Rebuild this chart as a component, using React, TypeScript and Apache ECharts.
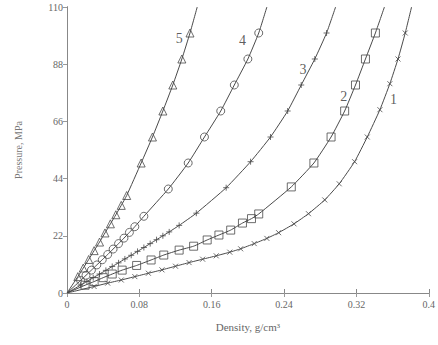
import React, { useEffect, useRef } from "react";
import * as echarts from "echarts";

// Curve 1 (× markers)
const c1Marks: number[][] = [
  [0.03, 2.5], [0.045, 3.8], [0.06, 5.0], [0.075, 6.3], [0.09, 7.6], [0.105, 8.9],
  [0.12, 10.3], [0.135, 11.7], [0.15, 13.0], [0.165, 14.3], [0.18, 15.7], [0.192, 17],
  [0.207, 19], [0.221, 21], [0.234, 23.2], [0.251, 26.6], [0.267, 30.5], [0.285, 35.8],
  [0.301, 42], [0.318, 50.5], [0.332, 60], [0.346, 70.5], [0.357, 80.5], [0.366, 90], [0.374, 100],
];
const c1Ends: number[][] = [[0, 0], [0.381, 110]];

// Curve 2 (□ markers)
const c2Marks: number[][] = [
  [0.02, 3.0], [0.03, 4.4], [0.04, 5.9], [0.05, 7.3], [0.061, 8.8], [0.077, 10.6],
  [0.093, 12.7], [0.107, 14.6], [0.124, 16.5], [0.14, 18], [0.155, 20.4], [0.168, 22.3],
  [0.181, 24.2], [0.194, 26.9], [0.204, 28.6], [0.212, 30.4], [0.248, 40.8], [0.273, 50],
  [0.292, 60], [0.307, 70], [0.319, 80], [0.33, 90], [0.341, 100],
];
const c2Ends: number[][] = [[0, 0], [0.351, 110]];

// Curve 3 (+ markers)
const c3Marks: number[][] = [
  [0.015, 3.0], [0.022, 4.4], [0.029, 5.9], [0.036, 7.3], [0.043, 8.7], [0.05, 10.2],
  [0.057, 11.6], [0.064, 13.1], [0.071, 14.5], [0.078, 16.0], [0.085, 17.5], [0.092, 19.0],
  [0.099, 20.5], [0.106, 22.0], [0.113, 23.5], [0.124, 26], [0.143, 30.7], [0.176, 40.5],
  [0.203, 50.5], [0.225, 60], [0.244, 70], [0.259, 80], [0.274, 90], [0.287, 100],
];
const c3Ends: number[][] = [[0, 0], [0.297, 110]];

// Curve 4 (○ markers)
const c4Marks: number[][] = [
  [0.015, 4.8], [0.021, 6.8], [0.027, 8.8], [0.033, 10.8], [0.039, 12.8], [0.045, 14.8],
  [0.051, 16.9], [0.057, 19.0], [0.063, 21.1], [0.069, 23.3], [0.075, 25.5], [0.085, 29.5],
  [0.112, 40], [0.134, 50], [0.152, 60], [0.17, 70], [0.185, 80], [0.2, 90], [0.212, 100],
];
const c4Ends: number[][] = [[0, 0], [0.221, 110]];

// Curve 5 (△ markers)
const c5Marks: number[][] = [
  [0.012, 6.3], [0.018, 9.6], [0.024, 12.9], [0.03, 16.3], [0.036, 19.6], [0.042, 23.1],
  [0.048, 26.6], [0.054, 30.1], [0.06, 33.7], [0.066, 37.5], [0.082, 50], [0.0945, 60],
  [0.106, 70], [0.117, 80], [0.127, 90], [0.136, 100],
];
const c5Ends: number[][] = [[0, 0], [0.144, 110]];

// Curve labels
const curveLabels = ["1", "2", "3", "4", "5"];
const curveLabelPos: number[][] = [[0.361, 74.6], [0.306, 75.5], [0.261, 86], [0.194, 97], [0.124, 97.7]];

const xTicks = [0, 0.08, 0.16, 0.24, 0.32, 0.4];
const yTicks = [0, 22, 44, 66, 88, 110];

const INK = "#4a4a4a";
const FONT = "Liberation Serif";

export default function App() {
  const ref = useRef<HTMLDivElement>(null);
  useEffect(() => {
    if (!ref.current) return;
    const chart = echarts.init(ref.current, null, { renderer: "svg" });
    const lineS = (marks: number[][], ends: number[][]) => ({
      type: "line", data: [ends[0], ...marks, ends[1]], smooth: 0.15, showSymbol: false, symbol: "none",
      lineStyle: { color: INK, width: 1 }, silent: true, z: 2,
    });
    const markS = (data: number[][], symbol: string, size: number) => ({
      type: "scatter", data, symbol, symbolSize: size,
      itemStyle: { color: "rgba(255,255,255,0)", borderColor: INK, borderWidth: 1 }, z: 3,
    });
    const axisLabel = { color: "#666", fontFamily: FONT, fontSize: 10 };
    chart.setOption({
      animation: false,
      backgroundColor: "#fff",
      grid: { left: 67, right: 7, top: 7, bottom: 52 },
      xAxis: [
        {
          type: "value", min: xTicks[0], max: xTicks[xTicks.length - 1], interval: 0.08,
          name: "Density, g/cm³", nameLocation: "middle", nameGap: 28,
          nameTextStyle: { color: "#666", fontFamily: FONT, fontSize: 11 },
          axisLine: { lineStyle: { color: "#666" } },
          axisTick: { inside: true, length: 4, lineStyle: { color: "#888" } },
          axisLabel: { ...axisLabel, margin: 6, formatter: (v: number) => (v === 0 ? "0" : String(+v.toFixed(2))) },
          splitLine: { show: false },
        },
        {
          type: "value", position: "top", min: xTicks[0], max: xTicks[xTicks.length - 1], interval: 0.08,
          axisLine: { lineStyle: { color: "#888" } },
          axisTick: { inside: true, length: 4, lineStyle: { color: "#999" } },
          axisLabel: { show: false }, splitLine: { show: false },
        },
      ],
      yAxis: [
        {
          type: "value", min: yTicks[0], max: yTicks[yTicks.length - 1], interval: 22,
          name: "Pressure, MPa", nameLocation: "middle", nameGap: 44,
          nameTextStyle: { color: "#777", fontFamily: FONT, fontSize: 10 },
          axisLine: { lineStyle: { color: "#555" } },
          axisTick: { inside: false, length: 3, lineStyle: { color: "#888" } },
          axisLabel: { ...axisLabel, margin: 4 },
          splitLine: { show: false },
        },
        {
          type: "value", position: "right", min: yTicks[0], max: yTicks[yTicks.length - 1], interval: 22,
          axisLine: { lineStyle: { color: "#888" } },
          axisTick: { inside: true, length: 4, lineStyle: { color: "#999" } },
          axisLabel: { show: false }, splitLine: { show: false },
        },
      ],
      series: [
        lineS(c1Marks, c1Ends), lineS(c2Marks, c2Ends), lineS(c3Marks, c3Ends),
        lineS(c4Marks, c4Ends), lineS(c5Marks, c5Ends),
        markS(c1Marks, "path://M0,0L10,10M10,0L0,10", 5),
        markS(c2Marks, "rect", 8),
        markS(c3Marks, "path://M5,0L5,10M0,5L10,5", 6),
        markS(c4Marks, "circle", 8),
        markS(c5Marks, "triangle", 8),
        {
          type: "scatter", symbol: "circle", symbolSize: 0, silent: true, z: 4,
          data: curveLabels.map((n, i) => ({ name: n, value: curveLabelPos[i] })),
          label: {
            show: true, position: "inside", formatter: "{b}",
            color: "#333", fontFamily: FONT, fontSize: 14,
          },
        },
      ],
    });
    return () => chart.dispose();
  }, []);
  return <div ref={ref} style={{ width: 438, height: 345, position: "absolute", left: 0, top: 0 }} />;
}
